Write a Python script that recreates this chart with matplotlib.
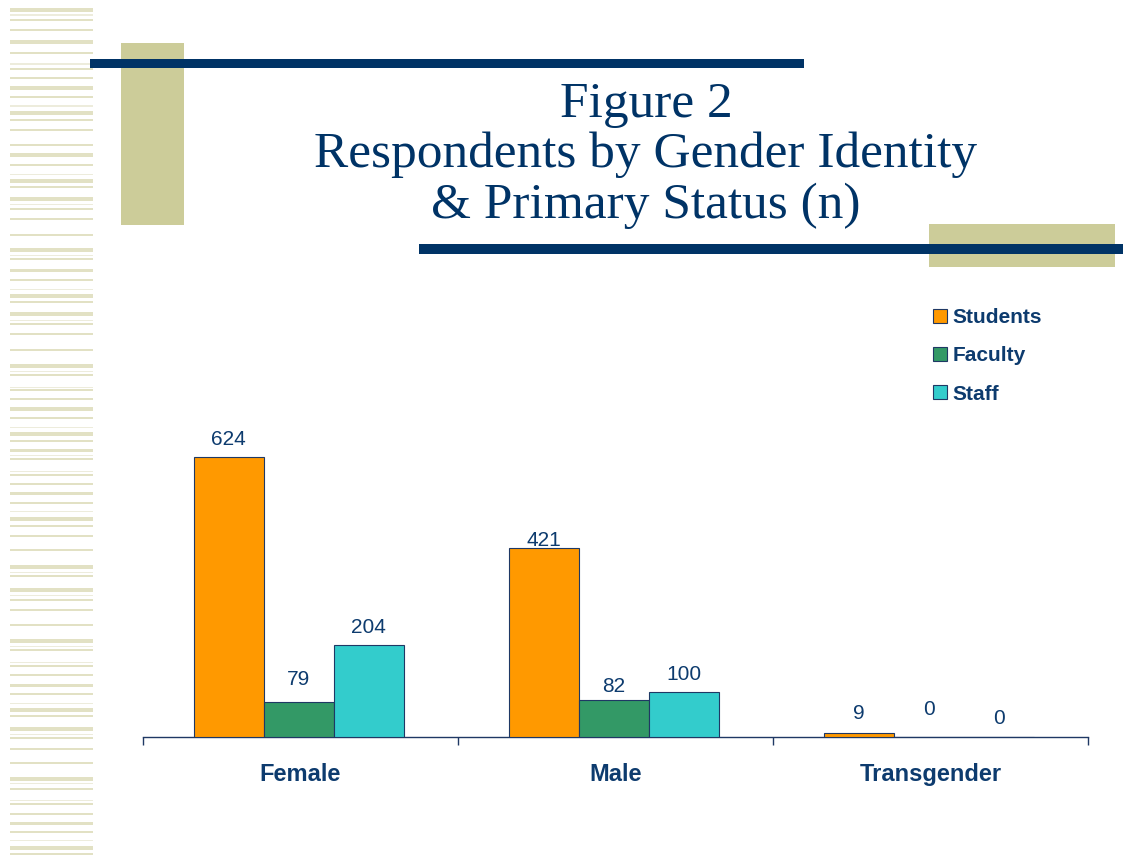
import matplotlib
matplotlib.use("Agg")
import matplotlib.pyplot as plt
from matplotlib.patches import Rectangle
import numpy as np

# ---- data ----
categories = ["Female", "Male", "Transgender"]
series_names = ["Students", "Faculty", "Staff"]
students = [624, 421, 9]
faculty = [79, 82, 0]
staff = [204, 100, 0]

title_lines = ["Figure 2", "Respondents by Gender Identity", "& Primary Status (n)"]

# ---- style ----
W, H = 1123, 857
NAVY = "#003366"
TEXT = "#0D3B6E"
KHAKI = "#CCCC99"
STRIPE = "#E2E1C4"
STRIPE_THIN = "#EDECDC"
colors = ["#FF9900", "#339966", "#33CCCC"]
EDGE = "#1F3864"

fig = plt.figure(figsize=(W / 100, H / 100), dpi=100)
fig.patch.set_facecolor("white")


def rect(x0, y0, x1, y1, color, z=1):
    fig.add_artist(Rectangle((x0 / W, 1 - y1 / H), (x1 - x0) / W, (y1 - y0) / H,
                             transform=fig.transFigure, facecolor=color,
                             edgecolor="none", zorder=z))


# left decorative stripes (y center, thickness, thin?)
stripes = [(10, 4, 0), (15, 1, 1), (20, 2, 0), (30, 2, 0), (42, 4, 0), (53, 2, 0),
           (64, 1, 1), (69, 2, 0), (78, 2, 0), (88, 3, 0), (97, 2, 0), (106, 1, 1),
           (113, 4, 0), (120, 2, 0), (130, 2, 0), (145, 2, 0), (155, 3, 0), (165, 2, 0),
           (174, 1, 1), (181, 4, 0), (187, 2, 0), (199, 4, 0), (204, 1, 1), (209, 2, 0),
           (219, 2, 0), (235, 2, 0), (250, 4, 0), (255, 1, 1), (259, 2, 0), (271, 3, 0),
           (280, 2, 0), (289, 1, 1), (296, 4, 0), (302, 2, 0), (314, 4, 0), (320, 1, 1),
           (324, 2, 0), (334, 2, 0), (350, 2, 0), (366, 4, 0), (371, 1, 1), (375, 2, 0),
           (387, 1, 1), (390, 2, 0), (399, 2, 0), (409, 3, 0), (418, 2, 0), (427, 1, 1),
           (434, 4, 0), (441, 2, 0), (450, 3, 0), (455, 1, 1), (459, 2, 0), (471, 1, 1),
           (475, 2, 0), (484, 2, 0), (493, 3, 0), (503, 2, 0), (511, 1, 1), (519, 4, 0),
           (526, 2, 0), (536, 2, 0), (550, 2, 0), (567, 4, 0), (572, 1, 1), (576, 2, 0),
           (590, 4, 0), (595, 1, 1), (600, 2, 0), (610, 2, 0), (625, 2, 0), (641, 4, 0),
           (646, 1, 1), (650, 2, 0), (662, 1, 1), (666, 2, 0), (675, 2, 0), (685, 3, 0),
           (694, 2, 0), (703, 1, 1), (710, 4, 0), (716, 2, 0), (729, 4, 0), (734, 1, 1),
           (738, 2, 0), (749, 2, 0), (763, 2, 0), (779, 4, 0), (783, 1, 1), (789, 2, 0),
           (800, 1, 1), (804, 2, 0), (814, 2, 0), (823, 3, 0), (832, 2, 0), (840, 1, 1),
           (848, 4, 0), (854, 2, 0)]
for yc, th, thin in stripes:
    rect(10, yc - th / 2, 93, yc + th / 2, STRIPE_THIN if thin else STRIPE)

# title decorations
rect(121, 43, 184, 225, KHAKI, 2)
rect(90, 59, 804, 68, NAVY, 3)
rect(929, 224, 1115, 267, KHAKI, 2)
rect(419, 244, 1123, 254, NAVY, 3)

# title
for txt, base in zip(title_lines, [117, 167, 218]):
    fig.text(646 / W, 1 - base / H, txt, ha="center", va="baseline",
             family="Liberation Serif", fontsize=37, color=NAVY)

# ---- axes ----
ax_l, ax_r, ax_b, ax_t = 143, 1088, 737, 423
ax = fig.add_axes([ax_l / W, 1 - ax_b / H, (ax_r - ax_l) / W, (ax_b - ax_t) / H])
ax.set_facecolor("none")
ax.set_xlim(-0.5, len(categories) - 0.5)
ax.set_ylim(0, 700)

x = np.arange(len(categories))
bw = 70 / 315
shift = -2 / 315
all_series = [students, faculty, staff]
# label offsets above bar tops, in pixels (style)
label_offsets_px = [[12.5, 2.5, 14], [17, 8.5, 22], [12, 12.5, 13]]
for i, (vals, name, col) in enumerate(zip(all_series, series_names, colors)):
    xs = x + (i - 1) * bw + shift
    ax.bar(xs, vals, width=bw, color=col, edgecolor=EDGE, linewidth=0.8,
           label=name, zorder=3)
    for xi, v, off in zip(xs, vals, label_offsets_px[i]):
        ax.annotate(str(v), (xi, v), xytext=(0, off * 0.72), textcoords="offset points",
                    ha="center", va="baseline", fontsize=15, color=TEXT,
                    family="Liberation Sans")

for s in ["left", "right", "top"]:
    ax.spines[s].set_visible(False)
ax.spines["bottom"].set_color(EDGE)
ax.spines["bottom"].set_linewidth(1.0)
ax.set_yticks([])
ax.set_xticks(x)
ax.set_xticklabels(categories, fontsize=17, fontweight="bold", color=TEXT,
                   family="Liberation Sans")
ax.tick_params(axis="x", which="major", length=0, pad=18.5)
ax.set_xticks(np.arange(-0.5, len(categories)), minor=True)
ax.tick_params(axis="x", which="minor", length=6, width=1.0, color=EDGE)

leg = ax.legend(loc="upper left", bbox_to_anchor=(933 / W, 1 - 308 / H),
                bbox_transform=fig.transFigure, frameon=False, borderpad=0,
                borderaxespad=0, handlelength=0.65, handleheight=0.65,
                handletextpad=0.3, labelspacing=0.93,
                prop={"family": "Liberation Sans", "weight": "bold", "size": 15})
for t in leg.get_texts():
    t.set_color(TEXT)

fig.savefig("out.png", dpi=100)
